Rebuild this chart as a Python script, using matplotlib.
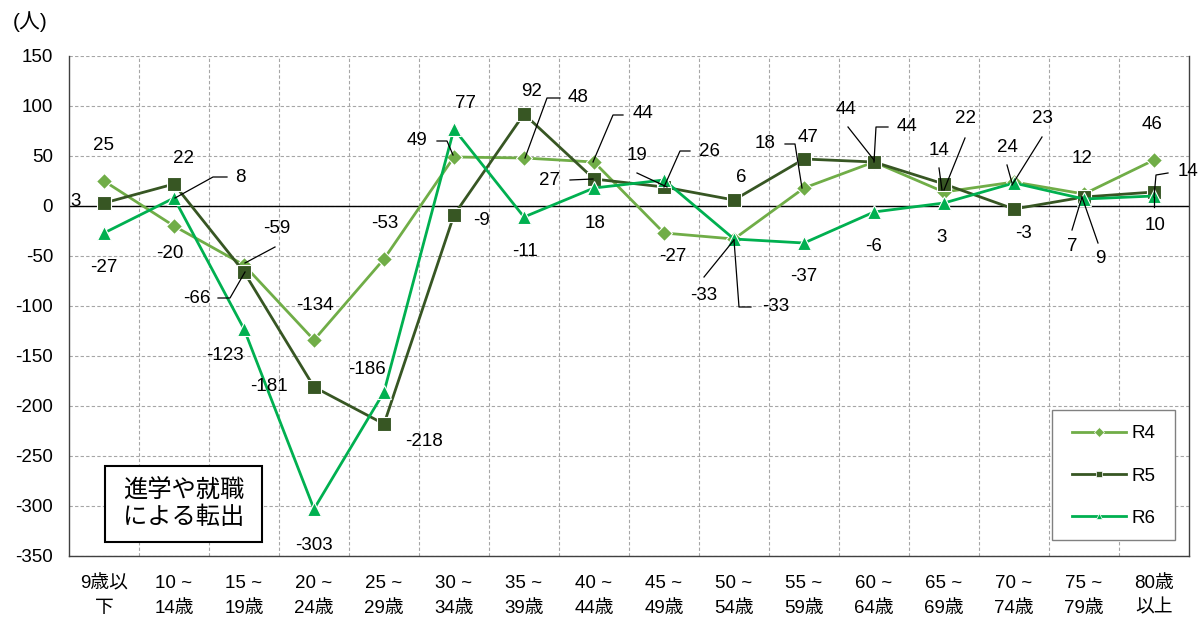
import matplotlib
matplotlib.use("Agg")
import matplotlib.pyplot as plt
from matplotlib.lines import Line2D
from matplotlib.patches import Rectangle
from matplotlib.transforms import IdentityTransform

plt.rcParams['font.family'] = ['Liberation Sans', 'Noto Sans CJK JP']
plt.rcParams['axes.unicode_minus'] = False

# ---------------- data ----------------
categories = ["9歳以\n下", "10 ~\n14歳", "15 ~\n19歳", "20 ~\n24歳", "25 ~\n29歳",
              "30 ~\n34歳", "35 ~\n39歳", "40 ~\n44歳", "45 ~\n49歳", "50 ~\n54歳",
              "55 ~\n59歳", "60 ~\n64歳", "65 ~\n69歳", "70 ~\n74歳", "75 ~\n79歳",
              "80歳\n以上"]
series_names = ["R4", "R5", "R6"]
r4 = [25, -20, -59, -134, -53, 49, 48, 44, -27, -33, 18, 44, 14, 24, 12, 46]
r5 = [3, 22, -66, -181, -218, -9, 92, 27, 19, 6, 47, 44, 22, -3, 9, 14]
r6 = [-27, 8, -123, -303, -186, 77, -11, 18, 26, -33, -37, -6, 3, 23, 7, 10]
yticks = [150, 100, 50, 0, -50, -100, -150, -200, -250, -300, -350]
unit_label = "(人)"
note_text = "進学や就職\nによる転出"

# ---------------- layout / style ----------------
W, H, DPI = 1201, 621, 100
colors = ["#70AD47", "#375623", "#00B050"]
markers = ["D", "s", "^"]
msizes = [8.5, 9.5, 10]

# label offsets in image pixels (dx right, dy down) + optional leader path
r4_lay = [(0, -34, None), (-4, 29, None), (33, -35, [(1, -2), (31, -18)]),
          (1, -33, None), (1, -34, None),
          (-37, -15, [(-1, -2), (-7, -16), (-17, -16)]),
          (54, -60, [(1, 0), (23, -60), (36, -60)]),
          (49, -47, [(-1, 0), (19, -47), (29, -47)]),
          (9, 25, None), (-30, 58, [(0, 1), (-30, 38)]),
          (-39, -43, [(-2, 0), (-9, -44), (-19, -44)]),
          (-28, -52, [(0, -2), (-26, -35)]),
          (-5, -40, [(-2, -2), (-5, -24)]),
          (-7, -33, [(-2, 1), (-7, -17)]),
          (-2, -34, None), (-2, -34, None)]
r5_lay = [(-28, 0, None), (9, -24, None), (-47, 28, [(1, 0), (-14, 26), (-26, 26)]),
          (-45, 1, None), (40, 19, None), (28, 7, None), (8, -22, None),
          (-44, 3, [(-1, 0), (-24, 1)]), (-27, -30, [(3, 0), (-27, -14)]),
          (7, -21, None), (4, -20, None), (33, -34, [(0, 0), (2, -35), (14, -35)]),
          (21, -64, [(0, 6), (21, -46)]), (9, 26, None), (16, 63, [(-2, 0), (14, 46)]),
          (34, -19, [(0, 5), (2, -17), (14, -19)])]
r6_lay = [(0, 36, None), (66, -19, [(1, 0), (39, -21), (53, -21)]), (-19, 28, None),
          (0, 38, None), (-17, -21, None), (11, -24, None), (1, 36, None), (1, 37, None),
          (45, -27, [(0, 7), (16, -29), (26, -29)]),
          (42, 69, [(0, 1), (5, 68), (17, 68)]),
          (0, 35, None), (0, 36, None), (-2, 36, None),
          (28, -63, [(-2, 2), (28, -46)]), (-12, 49, [(-2, -2), (-12, 31)]),
          (1, 31, [(0, 1), (0, 11)])]

fig = plt.figure(figsize=(W / DPI, H / DPI), dpi=DPI)
ax_l, ax_r, ax_t, ax_b = 69, 1189, 56, 556
fig.subplots_adjust(left=ax_l / W, right=ax_r / W, top=1 - ax_t / H, bottom=1 - ax_b / H)
ax = fig.add_subplot(111)

x = list(range(len(categories)))
ax.set_xlim(-0.5, len(categories) - 0.5)
ax.set_ylim(min(yticks), max(yticks))

# grid
ax.set_yticks(yticks)
ax.set_yticklabels([str(v) for v in yticks])
ax.set_xticks(x)
ax.set_xticklabels(categories, linespacing=1.6)
ax.set_xticks([i + 0.5 for i in x[:-1]], minor=True)
ax.grid(True, which='major', axis='y', color='#a6a6a6', lw=0.8, ls=(0, (3, 2)))
ax.grid(True, which='minor', axis='x', color='#a6a6a6', lw=0.8, ls=(0, (3, 2)))
ax.set_axisbelow(True)
ax.tick_params(axis='both', which='both', length=0, labelsize=13.5)
ax.tick_params(axis='y', pad=11.5)
ax.tick_params(axis='x', pad=13.5)
ax.axhline(0, color='black', lw=1.0, zorder=1.5)
ax.spines['top'].set_visible(False)
for s in ['left', 'bottom', 'right']:
    ax.spines[s].set_color('#404040')
    ax.spines[s].set_linewidth(1.0)

data = [r4, r5, r6]
lays = [r4_lay, r5_lay, r6_lay]
for k, (vals, c, m, ms) in enumerate(zip(data, colors, markers, msizes)):
    ax.plot(x, vals, color=c, lw=2.0, marker=m, ms=ms, markerfacecolor=c,
            markeredgecolor='white', markeredgewidth=0.8, zorder=3 + k)

fig.canvas.draw()
for vals, lay in zip(data, lays):
    for i, (v, (dx, dy, path)) in enumerate(zip(vals, lay)):
        ax.annotate(str(v), xy=(i, v), xytext=(dx, -dy + 1), textcoords='offset pixels',
                    ha='center', va='center', fontsize=13.5, zorder=10)
        if path:
            px, py = ax.transData.transform((i, v))
            xs = [px + p[0] for p in path]
            ys = [py - p[1] for p in path]
            fig.add_artist(Line2D(xs, ys, transform=IdentityTransform(), color='black',
                                  lw=0.9, zorder=9))

# legend (frame drawn separately for exact size)
lx, ly, lw_, lh = 1052, 410, 123, 130
fig.add_artist(Rectangle((lx / W, 1 - (ly + lh) / H), lw_ / W, lh / H,
                         transform=fig.transFigure, facecolor='white',
                         edgecolor='#808080', lw=1.0, zorder=7))
handles = [Line2D([], [], color=c, lw=2.0, marker=m, ms=5, markerfacecolor=c,
                  markeredgecolor='white', markeredgewidth=0.5)
           for c, m in zip(colors, markers)]
leg = fig.legend(handles, series_names, loc='center',
                 bbox_to_anchor=((lx + lw_ / 2) / W, 1 - (ly + lh / 2 + 1) / H),
                 fontsize=13.5, frameon=False, handlelength=2.9,
                 handletextpad=0.3, labelspacing=1.33, borderpad=0.0)
leg.set_zorder(8)

# unit label
fig.text(30 / W, 1 - 22 / H, unit_label, ha='center', va='center', fontsize=15)

# note box
fig.add_artist(Rectangle((105 / W, 1 - 542 / H), 157 / W, 76 / H, transform=fig.transFigure,
                         facecolor='white', edgecolor='black', lw=1.5, zorder=8))
fig.text(183.5 / W, 1 - 504 / H, note_text, ha='center', va='center', fontsize=17.5,
         linespacing=1.3, zorder=9)

fig.savefig("out.png", dpi=DPI)
